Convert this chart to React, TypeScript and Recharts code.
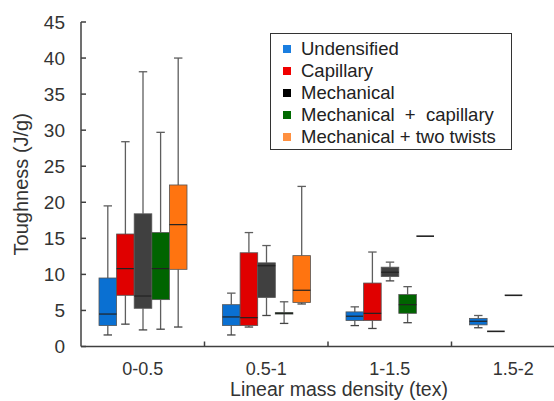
import React from "react";
import { ComposedChart, Bar, XAxis, YAxis, Legend } from "recharts";

const FONT = '"Liberation Sans", Arial, sans-serif';
const AXIS = "#404040";

const categories = ["0-0.5", "0.5-1", "1-1.5", "1.5-2"];
const yTicks = [0, 5, 10, 15, 20, 25, 30, 35, 40, 45];

const seriesKeys = ["undensified", "capillary", "mechanical", "mechCap", "twists"];
const seriesNames = [
  "Undensified",
  "Capillary",
  "Mechanical",
  "Mechanical  +  capillary",
  "Mechanical + two twists",
];
const seriesColors = ["#0a70d2", "#e00000", "#404040", "#006400", "#ff7410"];
const legendColors = ["#1a7ee0", "#f00000", "#000000", "#006a00", "#ff9040"];

// [min, q1, median, q3, max] per category
const undensified = [
  [1.6, 2.9, 4.5, 9.5, 19.5],
  [1.6, 2.9, 4.1, 5.8, 7.4],
  [2.9, 3.6, 4.2, 4.8, 5.5],
  [2.6, 3.0, 3.5, 3.9, 4.3],
];
const capillary = [
  [3.1, 7.1, 10.8, 15.6, 28.4],
  [2.7, 2.9, 4.0, 13.0, 15.8],
  [2.5, 3.6, 4.6, 8.8, 13.1],
  [2.1, 2.1, 2.1, 2.1, 2.1],
];
const mechanical = [
  [2.3, 5.3, 7.0, 18.4, 38.1],
  [4.3, 6.8, 11.2, 11.6, 14.0],
  [9.1, 9.7, 10.3, 11.0, 11.7],
  [7.1, 7.1, 7.1, 7.1, 7.1],
];
const mechCap = [
  [2.4, 6.5, 10.8, 15.8, 29.7],
  [3.2, 4.5, 4.6, 4.7, 6.2],
  [3.3, 4.6, 5.8, 7.2, 8.3],
  null,
];
const twists = [
  [2.7, 10.7, 16.9, 22.4, 40.0],
  [5.9, 6.1, 7.8, 12.6, 22.2],
  [15.3, 15.3, 15.3, 15.3, 15.3],
  null,
];

const seriesStats = [undensified, capillary, mechanical, mechCap, twists];

const rows = categories.map((cat, i) => {
  const r: any = { cat };
  seriesKeys.forEach((k, s) => {
    const st = seriesStats[s][i];
    r[k] = st ? st[4] : null;
    r[k + "_stat"] = st;
  });
  return r;
});

const makeBox = (key: string, color: string) => (props: any) => {
  const { x, y, width, height, payload } = props;
  const st = payload && payload[key + "_stat"];
  if (!st || height == null || !isFinite(y)) return <g />;
  const [mn, q1, med, q3, mx] = st;
  const base = y + height;
  const k = height / mx;
  const py = (v: number) => base - v * k;
  const cx = x + width / 2;
  const cap = width * 0.24;
  if (mn === mx) {
    return (
      <line x1={x} x2={x + width} y1={py(med)} y2={py(med)} stroke="#222" strokeWidth={1.6} />
    );
  }
  const whisk = "#5e5e5e";
  return (
    <g>
      <line x1={cx} x2={cx} y1={py(mx)} y2={py(q3)} stroke={whisk} strokeWidth={1.3} />
      <line x1={cx} x2={cx} y1={py(q1)} y2={py(mn)} stroke={whisk} strokeWidth={1.3} />
      <line x1={cx - cap} x2={cx + cap} y1={py(mx)} y2={py(mx)} stroke={whisk} strokeWidth={1.3} />
      <line x1={cx - cap} x2={cx + cap} y1={py(mn)} y2={py(mn)} stroke="#444" strokeWidth={1.3} />
      <rect
        x={x}
        y={py(q3)}
        width={width}
        height={Math.max(py(q1) - py(q3), 0.5)}
        fill={color}
        stroke="#555"
        strokeWidth={0.8}
      />
      <line x1={x} x2={x + width} y1={py(med)} y2={py(med)} stroke="#222" strokeWidth={1.2} />
    </g>
  );
};

const YTick = (props: any) => {
  const { x, y, payload } = props;
  return (
    <g>
      <line x1={x + 16} x2={x + 21} y1={y} y2={y} stroke={AXIS} strokeWidth={1.5} />
      <text x={x} y={y} dy={6.5} textAnchor="end" fontSize={19} fill="#333" fontFamily={FONT}>
        {payload.value}
      </text>
    </g>
  );
};

// category label, plus the inward separator tick at the right edge of the band
const XTick = (props: any) => {
  const { x, y, payload, index } = props;
  const half = payload.offset || 61.75;
  const axisY = y - 16;
  return (
    <g>
      {index < categories.length - 1 && (
        <line
          x1={x + half}
          x2={x + half}
          y1={axisY}
          y2={axisY - 5}
          stroke={AXIS}
          strokeWidth={1.5}
        />
      )}
      <text x={x} y={y} dy={12.5} textAnchor="middle" fontSize={18} fill="#333" fontFamily={FONT}>
        {payload.value}
      </text>
    </g>
  );
};

const renderLegend = () => (
  <div
    style={{
      width: 242,
      height: 117,
      boxSizing: "border-box",
      border: "1.5px solid #333",
      background: "#fff",
      padding: "4px 0 0 12px",
      fontFamily: FONT,
      fontSize: 18.5,
      lineHeight: "22px",
      color: "#222",
    }}
  >
    {seriesNames.map((n, i) => (
      <div key={n} style={{ display: "flex", alignItems: "center", whiteSpace: "pre" }}>
        <span
          style={{ width: 8, height: 8, background: legendColors[i], marginRight: 10, display: "inline-block" }}
        />
        {n}
      </div>
    ))}
  </div>
);

export default function App() {
  return (
    <div
      style={{
        position: "absolute",
        left: 0,
        top: 0,
        width: 554,
        height: 401,
        overflow: "hidden",
        background: "#fff",
      }}
    >
      <ComposedChart
        width={580}
        height={401}
        data={rows}
        margin={{ top: 22, right: 5, bottom: 0, left: 0 }}
        barGap={0}
      >
        <XAxis
          xAxisId="cat"
          dataKey="cat"
          height={54.5}
          tickSize={0}
          tickMargin={16}
          tickLine={false}
          axisLine={{ stroke: AXIS, strokeWidth: 1.5 }}
          tick={<XTick />}
          label={{
            content: (p: any) => {
              const vb = p.viewBox;
              return (
                <text
                  x={vb.x + vb.width / 2 + 11}
                  y={396}
                  textAnchor="middle"
                  fontSize={19.5}
                  fill="#333"
                  fontFamily={FONT}
                >
                  Linear mass density (tex)
                </text>
              );
            },
          }}
        />
        <YAxis
          width={81}
          domain={[0, 45]}
          ticks={yTicks}
          tickSize={0}
          tickMargin={16}
          tickLine={false}
          tick={<YTick />}
          axisLine={{ stroke: AXIS, strokeWidth: 1.5 }}
          label={{
            content: (p: any) => {
              const vb = p.viewBox;
              const cy = vb.y + vb.height / 2;
              return (
                <text
                  x={21}
                  y={cy}
                  transform={`rotate(-90 21 ${cy})`}
                  textAnchor="middle"
                  dominantBaseline="central"
                  fontSize={20}
                  fill="#333"
                  fontFamily={FONT}
                >
                  Toughness (J/g)
                </text>
              );
            },
          }}
        />
        <Legend
          layout="vertical"
          align="center"
          verticalAlign="middle"
          content={renderLegend}
          wrapperStyle={{ left: 270, top: 33, width: 242, height: 117 }}
        />
        {seriesKeys.map((k, i) => (
          <Bar
            key={k}
            xAxisId="cat"
            dataKey={k}
            name={seriesNames[i]}
            fill={seriesColors[i]}
            barSize={17.6}
            shape={makeBox(k, seriesColors[i])}
            isAnimationActive={false}
          />
        ))}
      </ComposedChart>
    </div>
  );
}
